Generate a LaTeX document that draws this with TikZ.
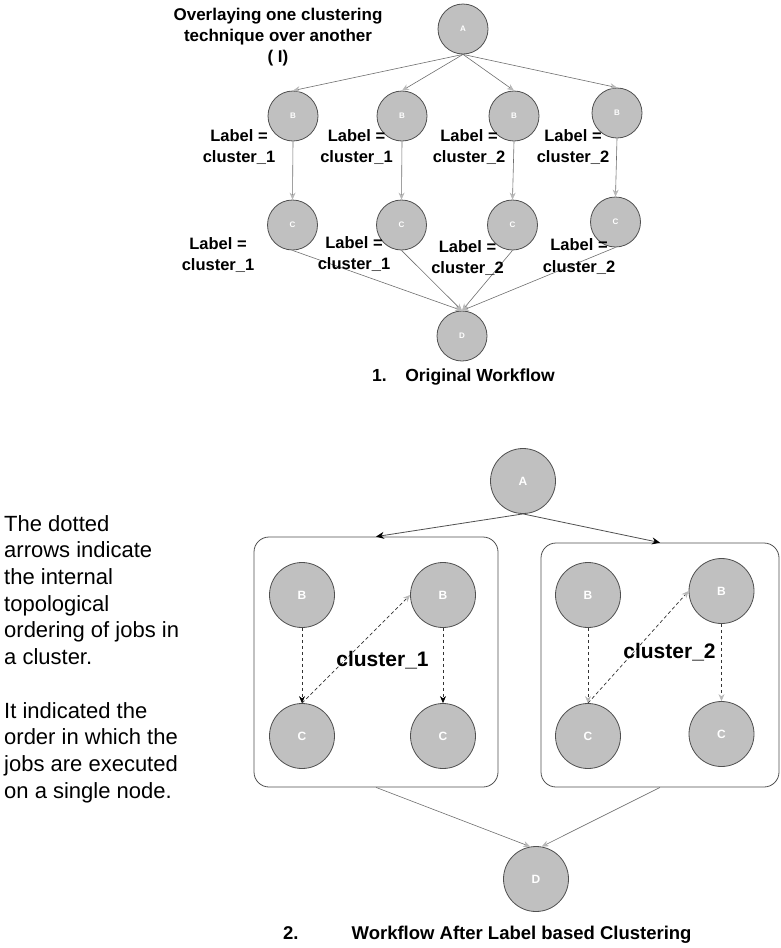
\documentclass[tikz,border=0pt]{standalone}
\usepackage{fontspec}
\setmainfont{Liberation Sans}
\usetikzlibrary{arrows.meta}
\definecolor{nodefill}{HTML}{C0C0C0}
\definecolor{nodeline}{HTML}{505050}
\definecolor{edgeline}{HTML}{6E6E6E}
\definecolor{tipgray}{HTML}{B8B8B8}
\definecolor{dashline}{HTML}{333333}
\begin{document}
\begin{tikzpicture}[x=1pt,y=-1pt,
  job/.style={circle, draw=nodeline, fill=nodefill, line width=0.8pt, inner sep=0pt, text=white},
  smalljob/.style={job, minimum size=50pt, font=\bfseries\fontsize{8}{9}\selectfont},
  bigjob/.style={job, minimum size=65pt, font=\bfseries\fontsize{12}{13}\selectfont},
  lbl/.style={align=center, font=\bfseries\fontsize{16.5}{21.5}\selectfont, inner sep=0pt},
  grayarrow/.style={draw=edgeline, line width=0.6pt, -{Stealth[length=7pt,width=6pt,color=tipgray]}},
  blackarrow/.style={draw=nodeline, line width=0.8pt, -{Stealth[length=8pt,width=7pt,color=black]}},
  dashgray/.style={draw=dashline, line width=0.7pt, dash pattern=on 3.5pt off 2.5pt, -{Stealth[length=7pt,width=6pt,color=tipgray]}},
  dashblack/.style={draw=dashline, line width=0.7pt, dash pattern=on 3.5pt off 2.5pt, -{Stealth[length=7pt,width=6pt,color=black]}},
  clusterbox/.style={draw=nodeline, line width=0.8pt, rounded corners=15pt, inner sep=0pt}
]
\useasboundingbox (0,0) rectangle (781,948);

% ---------- Part 1 ----------
\node[smalljob] (A) at (463,29) {A};
\node[smalljob] (B1) at (293,116) {B};
\node[smalljob] (B2) at (402,116) {B};
\node[smalljob] (B3) at (514,116) {B};
\node[smalljob] (B4) at (617,113) {B};
\node[smalljob] (C1) at (292.5,225) {C};
\node[smalljob] (C2) at (401.5,225) {C};
\node[smalljob] (C3) at (512.5,225) {C};
\node[smalljob] (C4) at (615.5,222) {C};
\node[smalljob] (D) at (462,336) {D};

\foreach \b in {B1,B2,B3,B4} \draw[grayarrow] (A.south) -- (\b.north);
\draw[grayarrow] (B1.south) -- (C1.north);
\draw[grayarrow] (B2.south) -- (C2.north);
\draw[grayarrow] (B3.south) -- (C3.north);
\draw[grayarrow] (B4.south) -- (C4.north);
\foreach \c in {C1,C2,C3,C4} \draw[grayarrow] (\c.south) -- (D.north);

\node[lbl, font=\bfseries\fontsize{17}{21.3}\selectfont] (title) at (278,37) {Overlaying one clustering\\technique over another\\( I)};

\node[lbl] (lb1) at (239,147) {Label =\\cluster\_1};
\node[lbl] (lb2) at (356.5,147) {Label =\\cluster\_1};
\node[lbl] (lb3) at (469,147) {Label =\\cluster\_2};
\node[lbl] (lb4) at (573,147) {Label =\\cluster\_2};

\node[lbl] (lc1) at (218,255) {Label =\\cluster\_1};
\node[lbl] (lc2) at (354,254) {Label =\\cluster\_1};
\node[lbl] (lc3) at (467.5,258) {Label =\\cluster\_2};
\node[lbl] (lc4) at (579,256.5) {Label =\\cluster\_2};

\node[lbl, anchor=west, font=\bfseries\fontsize{17.5}{21}\selectfont] (cap1) at (372,377) {1.\hspace{18.5pt}Original Workflow};

% ---------- Part 2 ----------
\node[clusterbox, minimum width=244pt, minimum height=250pt] (box1) at (376,662) {};
\node[clusterbox, minimum width=238pt, minimum height=244pt] (box2) at (660,665) {};

\node[bigjob] (A2) at (523,481) {A};
\node[bigjob] (P1) at (302,595) {B};
\node[bigjob] (P2) at (443,595) {B};
\node[bigjob] (P3) at (588,595) {B};
\node[bigjob] (P4) at (721.5,591) {B};
\node[bigjob] (Q1) at (302,736) {C};
\node[bigjob] (Q2) at (443,736) {C};
\node[bigjob] (Q3) at (588,736) {C};
\node[bigjob] (Q4) at (721.5,734) {C};
\node[bigjob] (D2) at (536,879) {D};

\draw[blackarrow] (A2.south) -- (box1.north);
\draw[blackarrow] (A2.south) -- (box2.north);
\draw[grayarrow] (box1.south) -- (D2.100);
\draw[grayarrow] (box2.south) -- (D2.80);

\draw[dashblack] (P1.south) -- (Q1.north);
\draw[dashblack] (P2.south) -- (Q2.north);
\draw[dashgray] (P3.south) -- (Q3.north);
\draw[dashgray] (P4.south) -- (Q4.north);
\draw[dashgray] (Q1.north) -- (P2.west);
\draw[dashgray] (Q3.north) -- (P4.west);

\node[lbl, font=\bfseries\fontsize{21}{24}\selectfont] (cl1) at (382.5,660) {cluster\_1};
\node[lbl, font=\bfseries\fontsize{21}{24}\selectfont] (cl2) at (669.5,652) {cluster\_2};

\node[lbl, anchor=west, font=\bfseries\fontsize{18.5}{22}\selectfont] (cap2) at (283,935) {2.\hspace{53pt}Workflow After Label based Clustering};

\node[align=left, anchor=north west, inner sep=0pt, font=\fontsize{22}{26.7}\selectfont] (note) at (4,515)
  {The dotted\\arrows indicate\\the internal\\topological\\ordering of jobs in\\a cluster.\\[26.7pt]It indicated the\\order in which the\\jobs are executed\\on a single node.};
\end{tikzpicture}
\end{document}
